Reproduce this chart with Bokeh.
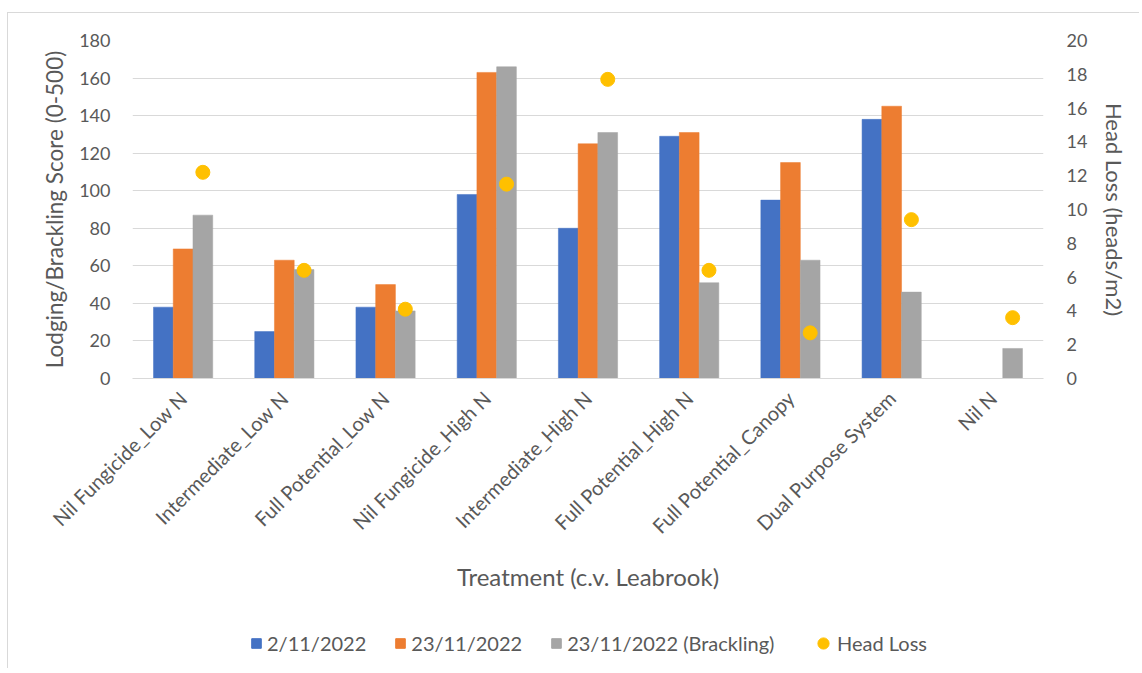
import math
from bokeh.plotting import figure
from bokeh.layouts import column
from bokeh.models import (ColumnDataSource, LinearAxis, Range1d, FactorRange,
                          Legend, LegendItem, SingleIntervalTicker)
from bokeh.transform import dodge
from bokeh.embed import file_html
from bokeh.resources import INLINE

treatments = ["Nil Fungicide_Low N", "Intermediate_Low N", "Full Potential_Low N",
              "Nil Fungicide_High N", "Intermediate_High N", "Full Potential_High N",
              "Full Potential_Canopy", "Dual Purpose System", "Nil N"]
lodging_2nov = [38, 25, 38, 98, 80, 129, 95, 138, 0]
lodging_23nov = [69, 63, 50, 163, 125, 131, 115, 145, 0]
brackling_23nov = [87, 58, 36, 166, 131, 51, 63, 46, 16]
head_loss = [12.2, 6.4, 4.1, 11.5, 17.7, 6.4, 2.7, 9.4, 3.6]

series_names = ["2/11/2022", "23/11/2022", "23/11/2022 (Brackling)", "Head Loss"]
series_colors = ["#4472C4", "#ED7D31", "#A5A5A5", "#FFC000"]

FONT = "Lato"
TXT = "#595959"
GRID = "#D9D9D9"

src = ColumnDataSource(dict(t=treatments, a=lodging_2nov, b=lodging_23nov,
                            c=brackling_23nov, h=head_loss))

p = figure(x_range=FactorRange(*treatments), y_range=Range1d(0, 180),
           frame_width=911, frame_height=338,
           min_border_left=124, min_border_right=96, min_border_top=27,
           min_border_bottom=240,
           output_backend="svg", toolbar_location=None)
p.extra_y_ranges = {"hl": Range1d(0, 20)}
p.outline_line_color = None
p.background_fill_color = "white"
p.border_fill_color = "white"

bw = 0.195
p.vbar(x=dodge("t", -bw, range=p.x_range), top="a", width=bw, source=src,
       fill_color=series_colors[0], line_color=series_colors[0], line_width=0.5)
p.vbar(x=dodge("t", 0, range=p.x_range), top="b", width=bw, source=src,
       fill_color=series_colors[1], line_color=series_colors[1], line_width=0.5)
p.vbar(x=dodge("t", bw, range=p.x_range), top="c", width=bw, source=src,
       fill_color=series_colors[2], line_color=series_colors[2], line_width=0.5)
p.scatter(x=dodge("t", bw, range=p.x_range), y="h", y_range_name="hl",
          size=14, marker="circle", fill_color=series_colors[3],
          line_color=series_colors[3], source=src)

p.xgrid.grid_line_color = None
p.ygrid.grid_line_color = GRID
p.ygrid.grid_line_width = 1
p.yaxis.ticker = SingleIntervalTicker(interval=20)

left = p.yaxis[0]
left.axis_line_color = None
left.major_tick_line_color = None
left.minor_tick_line_color = None
left.major_label_text_font = FONT
left.major_label_text_font_size = "18px"
left.major_label_text_color = TXT
left.major_label_standoff = 16
left.axis_label = "Lodging/Brackling Score (0-500)"
left.axis_label_text_font = FONT
left.axis_label_text_font_size = "22.5px"
left.axis_label_text_font_style = "normal"
left.axis_label_text_color = TXT
left.axis_label_standoff = 8

right = LinearAxis(y_range_name="hl", ticker=SingleIntervalTicker(interval=2))
right.axis_line_color = None
right.major_tick_line_color = None
right.minor_tick_line_color = None
right.major_label_text_font = FONT
right.major_label_text_font_size = "18px"
right.major_label_text_color = TXT
right.major_label_standoff = 17
right.axis_label = "Head Loss (heads/m2)"
right.axis_label_text_font = FONT
right.axis_label_text_font_size = "22px"
right.axis_label_text_font_style = "normal"
right.axis_label_text_color = TXT
right.axis_label_standoff = 11
p.add_layout(right, "right")

xa = p.xaxis[0]
xa.axis_line_color = GRID
xa.major_tick_line_color = None
xa.minor_tick_line_color = None
xa.major_label_orientation = math.pi / 4
xa.major_label_text_font = FONT
xa.major_label_text_font_size = "20px"
xa.major_label_text_color = TXT
xa.major_label_standoff = 10
xa.axis_label = "Treatment (c.v. Leabrook)"
xa.axis_label_text_font = FONT
xa.axis_label_text_font_size = "24px"
xa.axis_label_text_font_style = "normal"
xa.axis_label_text_color = TXT
xa.axis_label_standoff = 13

# legend strip below the chart
lg = figure(x_range=Range1d(0, 1), y_range=Range1d(0, 1),
            frame_width=911, frame_height=50,
            min_border_left=124, min_border_right=96, min_border_top=0,
            min_border_bottom=0, output_backend="svg", toolbar_location=None)
lg.axis.visible = False
lg.grid.grid_line_color = None
lg.outline_line_color = None
lg.background_fill_color = "white"
lg.border_fill_color = "white"
rs = []
for col in series_colors[:3]:
    rs.append(lg.vbar(x=[-5], top=[-5], width=0.1, fill_color=col, line_color=col))
rs.append(lg.scatter(x=[-5], y=[-5], size=14, marker="circle",
                     fill_color=series_colors[3], line_color=series_colors[3]))

common = dict(orientation="horizontal", label_text_font=FONT,
              label_text_font_size="20px", label_text_color=TXT,
              border_line_color=None, background_fill_alpha=0,
              margin=0, padding=0)
legend_a = Legend(items=[LegendItem(label=n, renderers=[r])
                         for n, r in zip(series_names[:3], rs[:3])],
                  location=(118, 13), glyph_width=12, glyph_height=12,
                  label_standoff=5, spacing=28, **common)
legend_b = Legend(items=[LegendItem(label=series_names[3], renderers=[rs[3]])],
                  location=(677, 11), glyph_width=28, glyph_height=28,
                  label_standoff=-3, spacing=0, **common)
lg.add_layout(legend_a, "center")
lg.add_layout(legend_b, "center")

layout = column(p, lg, spacing=0)
layout.styles = {"border-top": "1px solid #D9D9D9", "border-left": "1px solid #D9D9D9",
                 "margin-top": "12px", "margin-left": "7px"}

open("out.html", "w").write(file_html(layout, INLINE))
